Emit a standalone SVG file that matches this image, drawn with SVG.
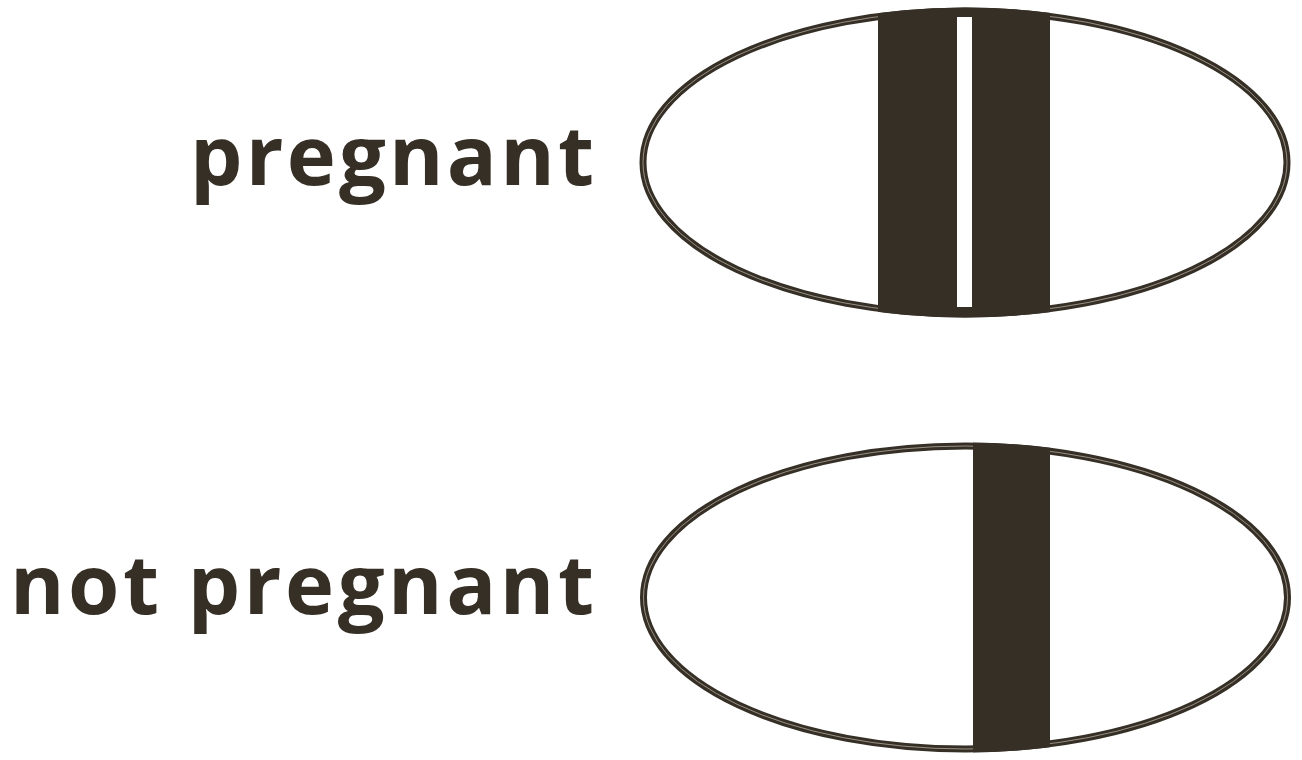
<svg xmlns="http://www.w3.org/2000/svg" width="1302" height="760" viewBox="0 0 1302 760">
<defs>
<style>
.lbl{font-family:"Open Sans","Liberation Sans",sans-serif;font-weight:700;font-size:83px;fill:#362f26}
.ring{fill:none;stroke:#362f26;stroke-width:7}
.inner{fill:none;stroke:#d9d2c6;stroke-width:0.6}
.bar{fill:#362f26}
</style>
<clipPath id="c1"><ellipse cx="965" cy="162.5" rx="325.5" ry="155"/></clipPath>
<clipPath id="c2"><ellipse cx="965.5" cy="597.5" rx="325.5" ry="155"/></clipPath>
</defs>
<rect width="1302" height="760" fill="#ffffff"/>
<g id="pregnant">
<text class="lbl" x="190" y="185" textLength="404" lengthAdjust="spacing">pregnant</text>
<ellipse class="ring" cx="965" cy="162.5" rx="322" ry="151.5"/>
<ellipse class="inner" cx="965" cy="162.5" rx="322" ry="151.5"/>
<g clip-path="url(#c1)">
<rect class="bar" x="878" y="0" width="172" height="330"/>
<rect x="957" y="17" width="15" height="290" fill="#ffffff"/>
</g>
</g>
<g id="not-pregnant">
<text class="lbl" x="10" y="614" textLength="584" lengthAdjust="spacing">not pregnant</text>
<ellipse class="ring" cx="965.5" cy="597.5" rx="322" ry="151.5"/>
<ellipse class="inner" cx="965.5" cy="597.5" rx="322" ry="151.5"/>
<g clip-path="url(#c2)">
<rect class="bar" x="973" y="430" width="77" height="340"/>
</g>
</g>
</svg>
